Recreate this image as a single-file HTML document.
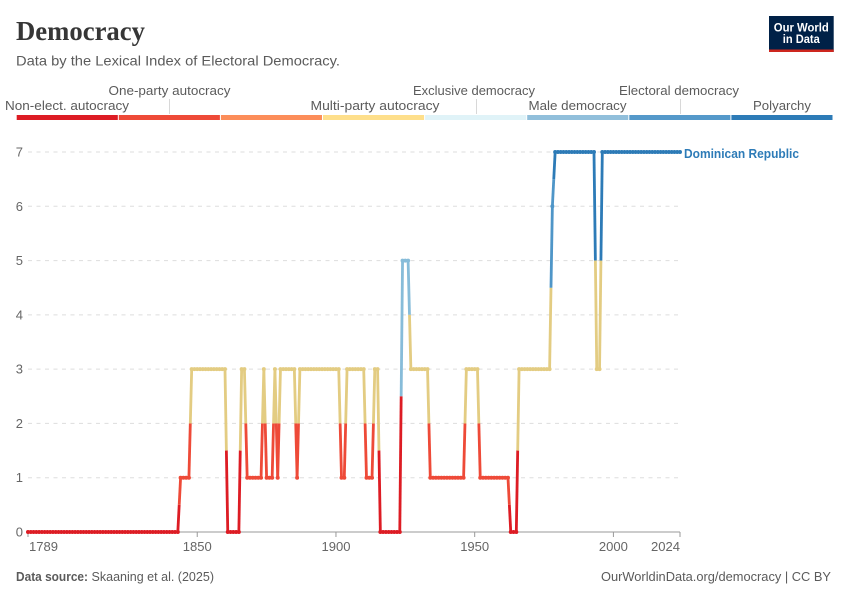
<!DOCTYPE html>
<html lang="en">
<head>
<meta charset="utf-8">
<title>Democracy</title>
<style>
html,body{margin:0;padding:0;background:#fff;width:850px;height:600px;overflow:hidden}
svg{display:block;font-family:"Liberation Sans",sans-serif}
</style>
</head>
<body>
<svg id="chart" xmlns="http://www.w3.org/2000/svg" width="850" height="600" viewBox="0 0 850 600">
  <rect x="0" y="0" width="850" height="600" fill="#fff"/>
  <text x="16" y="40" font-family="'Liberation Serif',serif" font-weight="700" font-size="27" fill="#363636" textLength="129" lengthAdjust="spacingAndGlyphs">Democracy</text>
  <text x="16" y="65.5" font-size="14" fill="#5b5b5b" textLength="324" lengthAdjust="spacingAndGlyphs">Data by the Lexical Index of Electoral Democracy.</text>
  <g>
    <rect x="769" y="16" width="64.7" height="36" fill="#002147"/>
    <rect x="769" y="49.5" width="64.7" height="2.5" fill="#ce261e"/>
    <text x="801.3" y="31.5" font-size="12" font-weight="700" fill="#fff" text-anchor="middle" textLength="55" lengthAdjust="spacingAndGlyphs">Our World</text>
    <text x="801.3" y="43" font-size="12" font-weight="700" fill="#fff" text-anchor="middle" textLength="37" lengthAdjust="spacingAndGlyphs">in Data</text>
  </g>
  <g id="legend"></g>
  <g id="grid"></g>
  <g id="yaxis"></g>
  <g id="xaxis"></g>
  <g id="series"></g>
  <text x="684" y="158" font-size="12.5" font-weight="700" fill="#2d7bb7" textLength="115" lengthAdjust="spacingAndGlyphs">Dominican Republic</text>
  <text x="16" y="581" font-size="13" font-weight="700" fill="#5b5b5b" textLength="72" lengthAdjust="spacingAndGlyphs">Data source:</text>
  <text x="91.5" y="581" font-size="13" fill="#5b5b5b" textLength="122.5" lengthAdjust="spacingAndGlyphs">Skaaning et al. (2025)</text>
  <text x="601" y="581" font-size="13" fill="#5b5b5b" textLength="230" lengthAdjust="spacingAndGlyphs">OurWorldinData.org/democracy | CC BY</text>
</svg>
<script>
const firstYear = 1789;
const lastYear = 2024;
const yTicks = [0, 1, 2, 3, 4, 5, 6, 7];
const xTicks = [1789, 1850, 1900, 1950, 2000, 2024];
const legendLabels = ["Non-elect. autocracy", "One-party autocracy", "", "Multi-party autocracy", "Exclusive democracy", "Male democracy", "Electoral democracy", "Polyarchy"];
const lexicalIndex = [
  0,0,0,0,0,0,0,0,0,0,
  0,0,0,0,0,0,0,0,0,0,
  0,0,0,0,0,0,0,0,0,0,
  0,0,0,0,0,0,0,0,0,0,
  0,0,0,0,0,0,0,0,0,0,
  0,0,0,0,0,1,1,1,1,3,
  3,3,3,3,3,3,3,3,3,3,
  3,3,0,0,0,0,0,3,3,1,
  1,1,1,1,1,3,1,1,1,3,
  1,3,3,3,3,3,3,1,3,3,
  3,3,3,3,3,3,3,3,3,3,
  3,3,3,1,1,3,3,3,3,3,
  3,3,1,1,1,3,3,0,0,0,
  0,0,0,0,0,5,5,5,3,3,
  3,3,3,3,3,1,1,1,1,1,
  1,1,1,1,1,1,1,1,3,3,
  3,3,3,1,1,1,1,1,1,1,
  1,1,1,1,0,0,0,3,3,3,
  3,3,3,3,3,3,3,3,3,6,
  7,7,7,7,7,7,7,7,7,7,
  7,7,7,7,7,3,3,7,7,7,
  7,7,7,7,7,7,7,7,7,7,
  7,7,7,7,7,7,7,7,7,7,
  7,7,7,7,7,7
];
const lineColors = ["#dd1c24", "#ee4a38", "#fc8d59", "#e3cc82", "#cfe6ef", "#87bcd9", "#4f96c8", "#2d7bb7"];
const legendColors = ["#dd1c24", "#ee4a38", "#fc8d59", "#fedf8b", "#e0f3f8", "#91bfdb", "#5599ca", "#2d7bb7"];

const NS = "http://www.w3.org/2000/svg";
const plot = {left: 28, right: 680, top: 152, bottom: 532};
function xScale(year) {
  return plot.left + (year - firstYear) / (lastYear - firstYear) * (plot.right - plot.left);
}
function yScale(v) {
  return plot.bottom - v / 7 * (plot.bottom - plot.top);
}
function make(tag, attrs, parent, text) {
  const el = document.createElementNS(NS, tag);
  for (const k in attrs) el.setAttribute(k, attrs[k]);
  if (text !== undefined) el.textContent = text;
  parent.appendChild(el);
  return el;
}

const legendG = document.getElementById("legend");
const legendX0 = 16.7, legendW = 102.1;
const labelCenters = {0: 67, 1: 169.5, 3: 375, 4: 474, 5: 577.5, 6: 679, 7: 782};
const labelWidths = {0: 124, 1: 122, 3: 129, 4: 122, 5: 98, 6: 120, 7: 58};
const connectorX = {1: 169.5, 4: 476.5, 6: 680.5};
legendColors.forEach(function (color, i) {
  const bar = make("rect", {x: legendX0 + i * legendW, y: 115, width: legendW - 1, height: 5, fill: color}, legendG);
  
  
  const label = legendLabels[i];
  if (!label) return;
  const raised = i === 1 || i === 4 || i === 6;
  const t = make("text", {x: labelCenters[i], y: raised ? 95 : 110, "font-size": 13, fill: "#5b5b5b", "text-anchor": "middle", textLength: labelWidths[i], lengthAdjust: "spacingAndGlyphs"}, legendG, label);
  
  
  if (raised) {
    const tick = make("line", {x1: connectorX[i], x2: connectorX[i], y1: 99, y2: 114, stroke: "#d8d8d8", "stroke-width": 1}, legendG);
    
    
  }
});

const gridG = document.getElementById("grid");
const yAxisG = document.getElementById("yaxis");
yTicks.forEach(function (v) {
  if (v > 0) {
    const g = make("line", {x1: plot.left, x2: plot.right, y1: yScale(v), y2: yScale(v), stroke: "#dddddd", "stroke-width": 1, "stroke-dasharray": "4,4.5"}, gridG);
    
    
  }
  const t = make("text", {x: 23, y: yScale(v) + 4.5, "font-size": 13, fill: "#666", "text-anchor": "end"}, yAxisG, String(v));
  
  
});

const xAxisG = document.getElementById("xaxis");
const xLine = make("line", {x1: plot.left, x2: plot.right, y1: plot.bottom, y2: plot.bottom, stroke: "#999", "stroke-width": 1}, xAxisG);


xTicks.forEach(function (year, i) {
  const x = xScale(year);
  const tick = make("line", {x1: x, x2: x, y1: plot.bottom, y2: plot.bottom + 5, stroke: "#999", "stroke-width": 1}, xAxisG);
  
  
  const anchor = i === 0 ? "start" : (i === xTicks.length - 1 ? "end" : "middle");
  const t = make("text", {x: x + (i === 0 ? 1 : 0), y: 551, "font-size": 13, fill: "#666", "text-anchor": anchor, textLength: 29, lengthAdjust: "spacingAndGlyphs"}, xAxisG, String(year));
  
  
});

const seriesG = document.getElementById("series");
function segment(x1, y1, x2, y2, color) {
  const s = make("line", {x1: x1, y1: y1, x2: x2, y2: y2, stroke: color, "stroke-width": 2.8, "stroke-linecap": "butt"}, seriesG);
  
  
}
for (let i = 0; i < lexicalIndex.length - 1; i++) {
  const a = lexicalIndex[i], b = lexicalIndex[i + 1];
  const x1 = xScale(firstYear + i), x2 = xScale(firstYear + i + 1);
  if (a === b) {
    segment(x1, yScale(a), x2, yScale(b), lineColors[a]);
  } else {
    const mx = (x1 + x2) / 2, mv = (a + b) / 2;
    segment(x1, yScale(a), mx, yScale(mv), lineColors[a]);
    segment(mx, yScale(mv), x2, yScale(b), lineColors[b]);
  }
}
lexicalIndex.forEach(function (v, i) {
  const d = make("circle", {cx: xScale(firstYear + i), cy: yScale(v), r: 2, fill: lineColors[v]}, seriesG);
  
  
});
</script>
</body>
</html>
